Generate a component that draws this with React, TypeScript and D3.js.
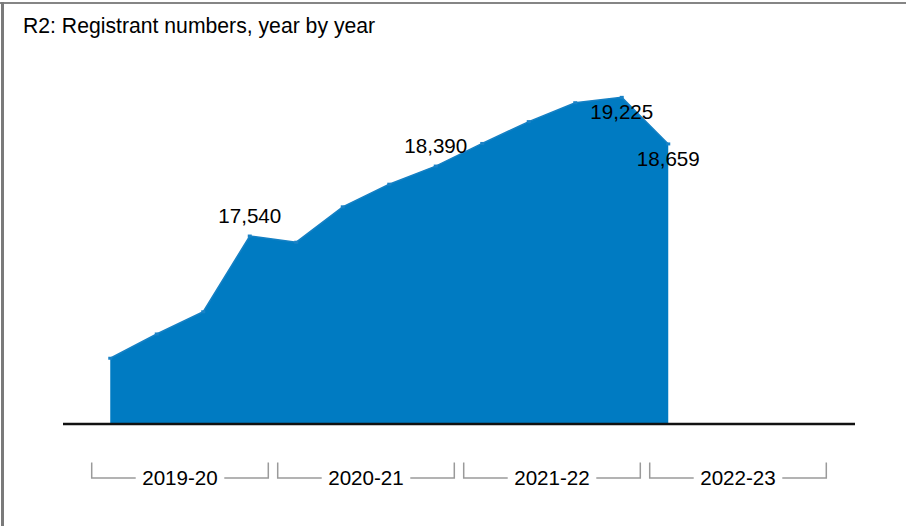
import * as d3 from 'd3';
import { useEffect, useRef } from 'react';

const title = 'R2: Registrant numbers, year by year';
const years = ['2019-20', '2020-21', '2021-22', '2022-23'];
const quarters = ['Q1', 'Q2', 'Q3', 'Q4'];
// quarterly registrant numbers, 2019-20 Q1 .. 2022-23 Q1
const registrants = [16055, 16350, 16620, 17540, 17465, 17895, 18170, 18390, 18665, 18930, 19160, 19225, 18659];
const labelledIdx = [3, 7, 11, 12];
const labelBelowIdx = [11, 12];

const W = 906,
    H = 526;
const FONT = 'Liberation Sans, Arial, sans-serif';
const BLUE = '#007bc2';

export default function App() {
    const svgRef = useRef<SVGSVGElement>(null);
    useEffect(() => {
        if (!svgRef.current) return;
        const svg = d3.select(svgRef.current);
        svg.selectAll('*').remove();

        const keys = years.flatMap((y) => quarters.map((q) => y + ' ' + q));
        const x = d3.scaleBand().domain(keys).range([87, 831]);
        const xYear = d3.scaleBand().domain(years).range([87, 831]);
        const y = d3.scaleLinear().domain([15250, 19250]).range([424.5, 95.3]);
        const baseY = 424;

        const cx = (i: number) => (x(keys[i]) as number) + x.bandwidth() / 2;

        // frame
        svg.append('rect').attr('width', W).attr('height', H).attr('fill', '#fff');
        svg.append('line').attr('x1', 0).attr('x2', W).attr('y1', 3).attr('y2', 3)
            .attr('stroke', '#858585').attr('stroke-width', 2);
        svg.append('line').attr('x1', 2.5).attr('x2', 2.5).attr('y1', 2).attr('y2', H)
            .attr('stroke', '#7a7a7a').attr('stroke-width', 3);

        svg.append('text')
            .attr('x', 23)
            .attr('y', 33)
            .attr('font-family', FONT)
            .attr('font-size', 21.2)
            .attr('fill', '#000')
            .text(title);

        const area = d3
            .area<number>()
            .x((_, i) => cx(i))
            .y0(baseY)
            .y1((d) => y(d));
        svg.append('path').datum(registrants).attr('d', area).attr('fill', BLUE);

        const line = d3
            .line<number>()
            .x((_, i) => cx(i))
            .y((d) => y(d));
        svg.append('path').datum(registrants).attr('d', line).attr('fill', 'none')
            .attr('stroke', '#1580c4').attr('stroke-width', 1.5);

        svg.append('g')
            .selectAll('rect')
            .data(registrants)
            .join('rect')
            .attr('x', (_, i) => cx(i) - 2)
            .attr('y', (d) => y(d) - 1.5)
            .attr('width', 4)
            .attr('height', 3)
            .attr('fill', '#1a82c6');

        // baseline
        svg.append('line').attr('x1', 63).attr('x2', 855).attr('y1', baseY).attr('y2', baseY)
            .attr('stroke', '#111').attr('stroke-width', 2.5);

        // value labels
        const fmt = d3.format(',');
        svg.append('g')
            .selectAll('text')
            .data(labelledIdx)
            .join('text')
            .attr('x', (i) => cx(i))
            .attr('y', (i) => (labelBelowIdx.includes(i) ? y(registrants[i]) + 22 : y(registrants[i]) - 13))
            .attr('text-anchor', 'middle')
            .attr('font-family', FONT)
            .attr('font-size', 20.6)
            .attr('fill', '#000')
            .text((i) => fmt(registrants[i]));

        // year brackets
        const by = 478,
            inset = 4.7,
            tickH = 15.5;
        years.forEach((yr) => {
            const x0 = (xYear(yr) as number) + inset;
            const x1 = (xYear(yr) as number) + xYear.bandwidth() - inset;
            const mid = (x0 + x1) / 2;
            const g = svg.append('g');
            const txt = g.append('text')
                .attr('x', mid)
                .attr('y', by + 6.5)
                .attr('text-anchor', 'middle')
                .attr('font-family', FONT)
                .attr('font-size', 20.6)
                .attr('fill', '#000')
                .text(yr);
            const tw = (txt.node() as SVGTextElement).getComputedTextLength();
            const gap = tw / 2 + 6.5;
            g.append('path')
                .attr('d', `M${x0},${by - tickH}V${by}H${mid - gap}M${mid + gap},${by}H${x1}V${by - tickH}`)
                .attr('fill', 'none')
                .attr('stroke', '#9a9a9a')
                .attr('stroke-width', 1.5);
        });
    });
    return (
        <div style={{ position: 'absolute', left: 0, top: 0 }}>
            <svg ref={svgRef} width={W} height={H} style={{ display: 'block' }} />
        </div>
    );
}
